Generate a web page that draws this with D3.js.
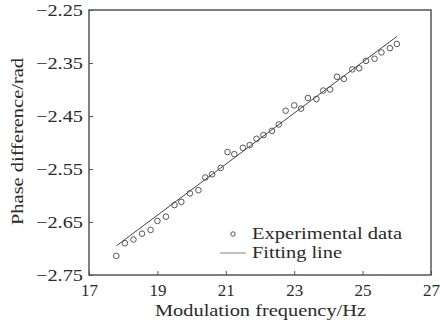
<!DOCTYPE html>
<html>
<head>
<meta charset="utf-8">
<script src="https://cdn.jsdelivr.net/npm/d3@7"></script>
<style>
  body { margin: 0; background: #fff; }
  svg text { font-family: "Liberation Serif", "DejaVu Serif", serif; fill: #2a2a2a; }
</style>
</head>
<body>
<div id="chart"></div>
<script>
// Data
const freq = [17.8, 18.05, 18.3, 18.55, 18.8, 19.0, 19.25, 19.5, 19.7, 19.95,
  20.2, 20.4, 20.6, 20.85, 21.05, 21.25, 21.5, 21.7, 21.9, 22.1,
  22.35, 22.55, 22.75, 23.0, 23.2, 23.4, 23.65, 23.85, 24.05, 24.25,
  24.45, 24.7, 24.9, 25.1, 25.35, 25.55, 25.8, 26.0];
const phase = [-2.714, -2.690, -2.683, -2.672, -2.665, -2.648, -2.640, -2.618, -2.612, -2.596,
  -2.590, -2.566, -2.560, -2.548, -2.518, -2.522, -2.510, -2.505, -2.493, -2.486,
  -2.478, -2.466, -2.440, -2.430, -2.436, -2.416, -2.418, -2.402, -2.400, -2.376,
  -2.380, -2.362, -2.360, -2.346, -2.342, -2.330, -2.322, -2.314];
const fitX = [17.8, 26.0];
const fitY = [-2.695, -2.300];
const xTicks = [17, 19, 21, 23, 25, 27];
const yTicks = [-2.75, -2.65, -2.55, -2.45, -2.35, -2.25];

const width = 440, height = 324;
const margin = { left: 89, right: 9, top: 10, bottom: 49 };

const svg = d3.select('#chart').append('svg')
  .attr('width', width)
  .attr('height', height);

const x = d3.scaleLinear().domain([17, 27]).range([margin.left, width - margin.right]);
const y = d3.scaleLinear().domain([-2.75, -2.25]).range([height - margin.bottom, margin.top]);

const axisColor = '#555';
const fmtY = d => d3.format('.2f')(d).replace('-', '\u2212');

// Frame
svg.append('rect')
  .attr('x', x(17)).attr('y', y(-2.25))
  .attr('width', x(27) - x(17)).attr('height', y(-2.75) - y(-2.25))
  .attr('fill', 'none').attr('stroke', axisColor).attr('stroke-width', 1.5);

// Axes with inward ticks
const xAxis = svg.append('g')
  .attr('transform', `translate(0,${y(-2.75)})`)
  .call(d3.axisBottom(x).tickValues(xTicks).tickSizeInner(-4).tickSizeOuter(0).tickPadding(9));
xAxis.select('.domain').remove();
xAxis.selectAll('line').attr('stroke', axisColor);
xAxis.selectAll('text').attr('font-size', 17).attr('font-family', null).attr('fill', null);

const yAxis = svg.append('g')
  .attr('transform', `translate(${x(17)},0)`)
  .call(d3.axisLeft(y).tickValues(yTicks).tickFormat(fmtY).tickSizeInner(-4).tickSizeOuter(0).tickPadding(6));
yAxis.select('.domain').remove();
yAxis.selectAll('line').attr('stroke', axisColor);
yAxis.selectAll('text').attr('font-size', 17).attr('font-family', null).attr('fill', null)
  .attr('textLength', 47).attr('lengthAdjust', 'spacingAndGlyphs');

// Fitting line
svg.append('path')
  .datum(fitX.map((d, i) => [d, fitY[i]]))
  .attr('d', d3.line().x(d => x(d[0])).y(d => y(d[1])))
  .attr('fill', 'none').attr('stroke', '#444').attr('stroke-width', 1);

// Experimental data
svg.append('g')
  .selectAll('circle')
  .data(freq.map((d, i) => [d, phase[i]]))
  .join('circle')
  .attr('cx', d => x(d[0]))
  .attr('cy', d => y(d[1]))
  .attr('r', 2.8)
  .attr('fill', 'none')
  .attr('stroke', '#444')
  .attr('stroke-width', 0.9);

// Axis titles
svg.append('text')
  .attr('x', 155).attr('y', 316)
  .attr('font-size', 17)
  .attr('textLength', 211).attr('lengthAdjust', 'spacingAndGlyphs')
  .text('Modulation frequency/Hz');

svg.append('text')
  .attr('transform', `translate(23,225) rotate(-90)`)
  .attr('font-size', 17)
  .attr('textLength', 167).attr('lengthAdjust', 'spacingAndGlyphs')
  .text('Phase difference/rad');

// Legend
const legend = svg.append('g');
legend.append('circle')
  .attr('cx', 233).attr('cy', 234).attr('r', 2.2)
  .attr('fill', 'none').attr('stroke', '#444').attr('stroke-width', 0.9);
legend.append('text').attr('x', 252).attr('y', 239).attr('font-size', 17)
  .attr('textLength', 150).attr('lengthAdjust', 'spacingAndGlyphs')
  .text('Experimental data');
legend.append('line')
  .attr('x1', 220).attr('x2', 246).attr('y1', 253).attr('y2', 253)
  .attr('stroke', '#999').attr('stroke-width', 1.2);
legend.append('text').attr('x', 252).attr('y', 258).attr('font-size', 17)
  .attr('textLength', 90).attr('lengthAdjust', 'spacingAndGlyphs')
  .text('Fitting line');
</script>
</body>
</html>
